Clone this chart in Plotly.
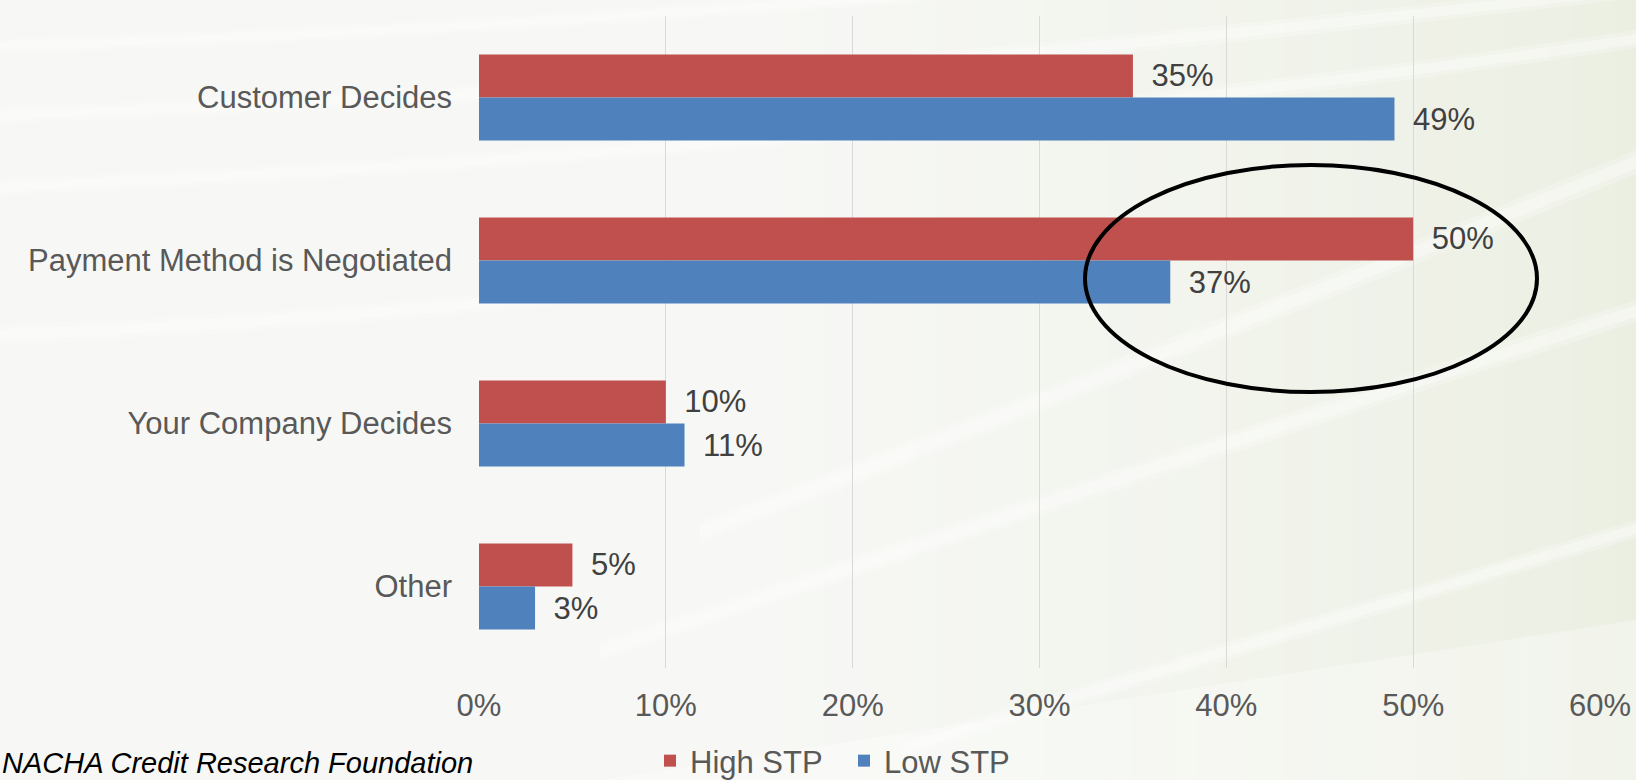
import plotly.graph_objects as go

categories = ["Customer Decides", "Payment Method is Negotiated", "Your Company Decides", "Other"]
high_stp = [0.35, 0.50, 0.10, 0.05]
low_stp = [0.49, 0.37, 0.11, 0.03]
series_names = ["High STP", "Low STP"]
source_text = "NACHA Credit Research Foundation"

W, H = 1636, 780
L, R, T, B = 479, 1600, 16, 668  # plot area in px


def px(x):
    return (x - L) / (R - L)


def py(y):
    return (B - y) / (B - T)


FONT = "Arial, Liberation Sans, sans-serif"

fig = go.Figure()
fig.add_trace(go.Bar(
    y=categories, x=high_stp, name=series_names[0], orientation="h",
    marker=dict(color="#C0504D", line=dict(width=0)),
    texttemplate="\u2002%{x:.0%}", textposition="outside",
    outsidetextfont=dict(size=31, color="#404040", family=FONT),
    constraintext="none", cliponaxis=False, hoverinfo="x+y+name",
))
fig.add_trace(go.Bar(
    y=categories, x=low_stp, name=series_names[1], orientation="h",
    marker=dict(color="#4F81BD", line=dict(width=0)),
    texttemplate="\u2002%{x:.0%}", textposition="outside",
    outsidetextfont=dict(size=31, color="#404040", family=FONT),
    constraintext="none", cliponaxis=False, hoverinfo="x+y+name",
))

shapes = []
# subtle green gradient toward the right (non-overlapping strips)
n = 40
x_start = 760
for j in range(n):
    x0 = x_start + j * (W - x_start) / n
    x1 = x_start + (j + 1) * (W - x_start) / n
    a = 0.32 * ((j + 1) / n) ** 1.3
    shapes.append(dict(type="rect", xref="paper", yref="paper",
                       x0=px(x0), x1=px(x1), y0=py(H), y1=py(0),
                       fillcolor=f"rgba(212,222,188,{a:.3f})", line=dict(width=0), layer="below"))
# lighter lower-middle region
shapes.append(dict(type="path", xref="paper", yref="paper",
                   path=f"M {px(600)},{py(H)} L {px(W)},{py(620)} L {px(W)},{py(H)} Z",
                   fillcolor="rgba(255,255,255,0.30)", line=dict(width=0), layer="below"))
# soft white swooshes
swooshes = [
    (0, 38, 700, 18, 1636, -80, 16),
    (0, 106, 800, 80, 1636, -20, 18),
    (0, 178, 900, 140, 1636, 30, 18),
    (0, 325, 600, 300, 1000, 220, 20),
    (700, 520, 1200, 330, 1636, 150, 24),
    (600, 640, 1200, 440, 1636, 300, 22),
    (900, 740, 1300, 620, 1636, 520, 18),
]
for (x0, y0, xc, yc, x1, y1, w) in swooshes:
    for k, (ww, op) in enumerate([(w, 0.22), (w * 0.55, 0.30)]):
        off = (w - ww) / 2
        path = (f"M {px(x0)},{py(y0 + off)} Q {px(xc)},{py(yc + off)} {px(x1)},{py(y1 + off)} "
                f"L {px(x1)},{py(y1 + off + ww)} Q {px(xc)},{py(yc + off + ww)} {px(x0)},{py(y0 + off + ww)} Z")
        shapes.append(dict(type="path", xref="paper", yref="paper", path=path,
                           fillcolor=f"rgba(255,255,255,{op})", line=dict(width=0), layer="below"))
# highlight ellipse
shapes.append(dict(type="circle", xref="paper", yref="paper",
                   x0=px(1085), x1=px(1537), y0=py(392), y1=py(165),
                   line=dict(color="black", width=4), fillcolor="rgba(0,0,0,0)", layer="above"))

fig.update_layout(
    width=W, height=H,
    margin=dict(l=L, r=W - R, t=T, b=H - B, pad=0, autoexpand=False),
    paper_bgcolor="#f7f8f5", plot_bgcolor="rgba(0,0,0,0)",
    barmode="group", bargap=0.472, bargroupgap=0,
    font=dict(family=FONT, color="#595959", size=31),
    showlegend=True,
    legend=dict(orientation="h", x=px(650), xanchor="left", y=py(761), yanchor="middle",
                font=dict(size=31, color="#595959", family=FONT),
                bgcolor="rgba(0,0,0,0)", traceorder="normal",
                entrywidth=149, entrywidthmode="pixels", itemclick=False),
    xaxis=dict(range=[0, 0.6], dtick=0.1, tickformat=".0%", showgrid=True,
               gridcolor="#d9d9d9", gridwidth=1, zeroline=False, showline=False,
               ticks="", ticklabelstandoff=16,
               tickfont=dict(size=31, color="#595959", family=FONT), fixedrange=True),
    yaxis=dict(autorange="reversed", showgrid=False, zeroline=False, showline=False,
               ticks="", ticklabelstandoff=26,
               tickfont=dict(size=31, color="#595959", family=FONT), fixedrange=True),
    shapes=shapes,
    annotations=[dict(text=source_text, xref="paper", yref="paper",
                      x=px(0), xanchor="left", y=py(781), yanchor="bottom",
                      showarrow=False,
                      font=dict(size=29, color="#000000", family=FONT, style="italic"))],
)

fig.write_html("out.html")
